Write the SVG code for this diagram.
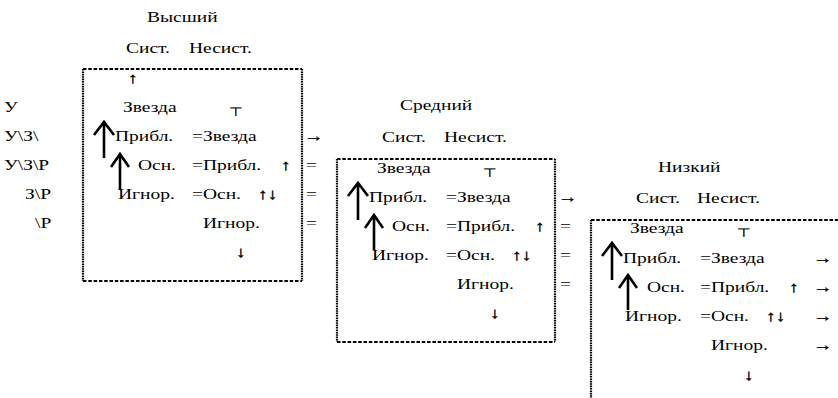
<svg xmlns="http://www.w3.org/2000/svg" width="838" height="398" viewBox="0 0 838 398">
<style>
text { font-family: "Liberation Serif", "Times New Roman", serif; font-size: 15px; fill: #000; transform-box: fill-box; transform-origin: 0 0; transform: scaleX(1.3); }
text.t { font-family: "DejaVu Sans", sans-serif; font-size: 12px; stroke: #000; stroke-width: 0.3; }
text.g { stroke: #000; stroke-width: 0.35; }
.hb { fill: none; stroke: #000; stroke-width: 2; stroke-dasharray: 3.5 1.8; }
.vb { fill: none; stroke: #000; stroke-width: 2.2; stroke-dasharray: 1.6 0.8; }
.ar { fill: none; stroke: #000; stroke-width: 2.6; stroke-linecap: butt; stroke-linejoin: miter; }
</style>
<rect width="838" height="398" fill="#fff"/>

<g id="labels">
<text x="4" y="112">У</text>
<text x="4" y="141">У\З\</text>
<text x="4" y="170">У\З\Р</text>
<text x="25" y="199">З\Р</text>
<text x="35" y="228">\Р</text>
</g>

<g id="high">
<text x="147" y="22">Высший</text>
<text x="126" y="53">Сист.</text>
<text x="189" y="53">Несист.</text>
<line class="hb" x1="83" y1="69" x2="302" y2="69"/>
<line class="hb" x1="83" y1="281" x2="302" y2="281"/>
<line class="vb" x1="83" y1="69" x2="83" y2="281"/>
<line class="vb" x1="302" y1="69" x2="302" y2="281"/>
<text class="g" x="128" y="83">↑</text>
<text x="123" y="112">Звезда</text>
<text class="t" x="229" y="116">⊤</text>
<text x="115" y="141">Прибл.</text>
<text x="192" y="141">=Звезда</text>
<text x="138" y="170">Осн.</text>
<text x="192" y="170">=Прибл.</text>
<text class="g" x="281" y="170">↑</text>
<text x="118" y="199">Игнор.</text>
<text x="192" y="199">=Осн.</text>
<text class="g" x="258" y="199">↑↓</text>
<text x="203" y="228">Игнор.</text>
<text class="g" x="236" y="257">↓</text>
<path class="ar" d="M104 158V123M94 135L104 122L114 135"/>
<path class="ar" d="M120 190V155M111 167L120 154L129 167"/>
</g>

<g id="mid">
<text x="400" y="110">Средний</text>
<text x="382" y="142">Сист.</text>
<text x="444" y="142">Несист.</text>
<line class="hb" x1="337" y1="159" x2="555" y2="159"/>
<line class="hb" x1="337" y1="342" x2="555" y2="342"/>
<line class="vb" x1="337" y1="159" x2="337" y2="342"/>
<line class="vb" x1="555" y1="159" x2="555" y2="342"/>
<text x="377" y="173">Звезда</text>
<text class="t" x="483" y="177">⊤</text>
<text x="369" y="202">Прибл.</text>
<text x="446" y="202">=Звезда</text>
<text x="392" y="231">Осн.</text>
<text x="446" y="231">=Прибл.</text>
<text class="g" x="535" y="231">↑</text>
<text x="372" y="260">Игнор.</text>
<text x="446" y="260">=Осн.</text>
<text class="g" x="512" y="260">↑↓</text>
<text x="457" y="289">Игнор.</text>
<text class="g" x="490" y="318">↓</text>
<path class="ar" d="M358 220V184M348 196L358 183L368 196"/>
<path class="ar" d="M374 250V216M365 228L374 215L383 228"/>
</g>

<g id="low">
<text x="658" y="172">Низкий</text>
<text x="636" y="203">Сист.</text>
<text x="697" y="203">Несист.</text>
<line class="hb" x1="591" y1="220" x2="838" y2="220"/>
<line class="vb" x1="591" y1="220" x2="591" y2="398"/>
<text x="630" y="233">Звезда</text>
<text class="t" x="737" y="237">⊤</text>
<text x="623" y="263">Прибл.</text>
<text x="700" y="263">=Звезда</text>
<text x="647" y="292">Осн.</text>
<text x="700" y="292">=Прибл.</text>
<text class="g" x="789" y="292">↑</text>
<text x="625" y="321">Игнор.</text>
<text x="700" y="321">=Осн.</text>
<text class="g" x="766" y="321">↑↓</text>
<text x="711" y="350">Игнор.</text>
<text class="g" x="744" y="380">↓</text>
<path class="ar" d="M612 280V244M602 256L612 243L622 256"/>
<path class="ar" d="M628 310V276M619 288L628 275L637 288"/>
</g>

<g id="connectors">
<text class="g" x="304" y="141">→</text>
<text x="306" y="170">=</text>
<text x="306" y="199">=</text>
<text x="306" y="228">=</text>
<text class="g" x="558" y="202">→</text>
<text x="560" y="231">=</text>
<text x="560" y="260">=</text>
<text x="560" y="289">=</text>
<text class="g" x="813" y="263">→</text>
<text class="g" x="813" y="292">→</text>
<text class="g" x="813" y="321">→</text>
<text class="g" x="813" y="350">→</text>
</g>
</svg>
